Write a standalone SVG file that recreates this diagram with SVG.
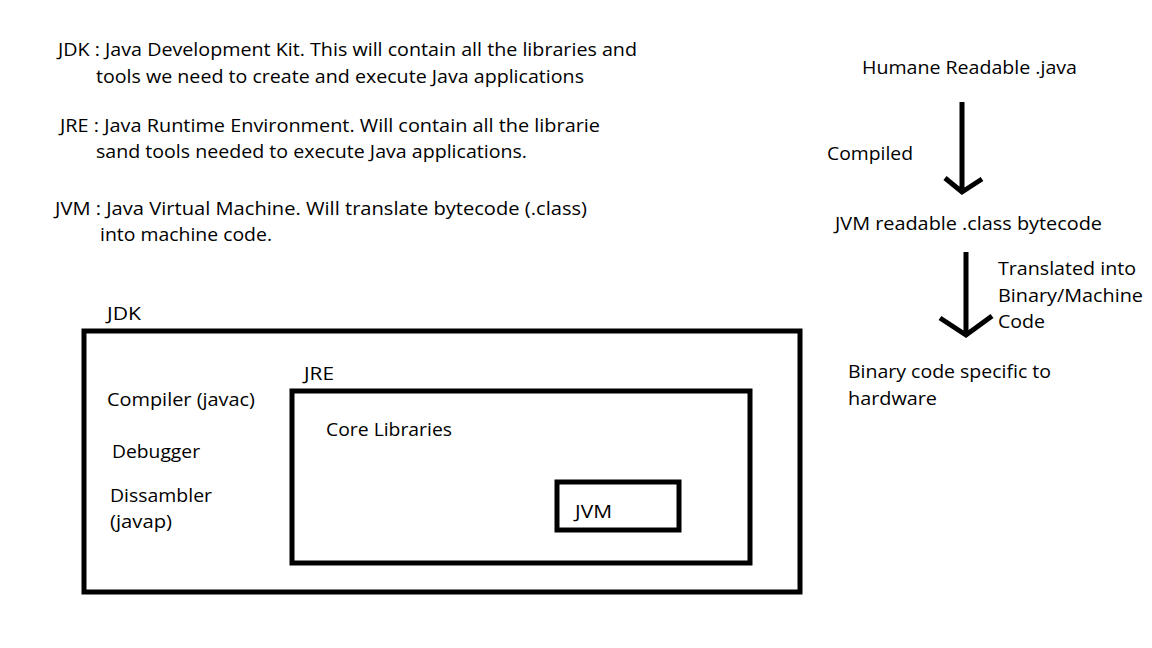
<svg xmlns="http://www.w3.org/2000/svg" width="1152" height="648" viewBox="0 0 1152 648">
<style>
text{font-family:"Open Sans","Liberation Sans",sans-serif;font-size:18.5px;fill:#000}
.box{fill:none;stroke:#000;stroke-width:5}
.arr{fill:none;stroke:#000;stroke-width:5;stroke-linecap:butt;stroke-linejoin:miter}
</style>
<rect width="1152" height="648" fill="#fff"/>
<g id="definitions">
<text x="58" y="56" textLength="579" lengthAdjust="spacingAndGlyphs">JDK : Java Development Kit. This will contain all the libraries and</text>
<text x="96" y="83" textLength="488" lengthAdjust="spacingAndGlyphs">tools we need to create and execute Java applications</text>
<text x="60" y="132" textLength="540" lengthAdjust="spacingAndGlyphs">JRE : Java Runtime Environment. Will contain all the librarie</text>
<text x="96" y="158" textLength="431" lengthAdjust="spacingAndGlyphs">sand tools needed to execute Java applications.</text>
<text x="55" y="215" textLength="532" lengthAdjust="spacingAndGlyphs">JVM : Java Virtual Machine. Will translate bytecode (.class)</text>
<text x="100" y="241" textLength="172" lengthAdjust="spacingAndGlyphs">into machine code.</text>
</g>
<g id="node-java">
<text x="862" y="74" textLength="215" lengthAdjust="spacingAndGlyphs">Humane Readable .java</text>
</g>
<g id="node-class">
<text x="835" y="230" textLength="267" lengthAdjust="spacingAndGlyphs">JVM readable .class bytecode</text>
</g>
<g id="node-binary">
<text x="848" y="378" textLength="203" lengthAdjust="spacingAndGlyphs">Binary code specific to</text>
<text x="848" y="405" textLength="89" lengthAdjust="spacingAndGlyphs">hardware</text>
</g>
<g id="connectors">
<path class="arr" d="M962 102V192M945 178L962 192L982 179"/>
<text x="827" y="160" textLength="86" lengthAdjust="spacingAndGlyphs">Compiled</text>
<path class="arr" d="M966 252V335M940 318L966 335L992 316"/>
<text x="998" y="275" textLength="138" lengthAdjust="spacingAndGlyphs">Translated into</text>
<text x="998" y="302" textLength="145" lengthAdjust="spacingAndGlyphs">Binary/Machine</text>
<text x="998" y="328" textLength="47" lengthAdjust="spacingAndGlyphs">Code</text>
</g>
<g id="jdk">
<rect class="box" x="84" y="331" width="716" height="261"/>
<text x="107" y="320" textLength="34" lengthAdjust="spacingAndGlyphs">JDK</text>
<text x="107" y="406" textLength="148" lengthAdjust="spacingAndGlyphs">Compiler (javac)</text>
<text x="112" y="458" textLength="88" lengthAdjust="spacingAndGlyphs">Debugger</text>
<text x="110" y="502" textLength="102" lengthAdjust="spacingAndGlyphs">Dissambler</text>
<text x="110" y="528" textLength="62" lengthAdjust="spacingAndGlyphs">(javap)</text>
</g>
<g id="jre">
<rect class="box" x="292" y="391" width="458" height="172"/>
<text x="304" y="380" textLength="30" lengthAdjust="spacingAndGlyphs">JRE</text>
<text x="326" y="436" textLength="126" lengthAdjust="spacingAndGlyphs">Core Libraries</text>
</g>
<g id="jvm">
<rect class="box" x="557" y="482" width="122" height="48"/>
<text x="575" y="518" textLength="37" lengthAdjust="spacingAndGlyphs">JVM</text>
</g>
</svg>
